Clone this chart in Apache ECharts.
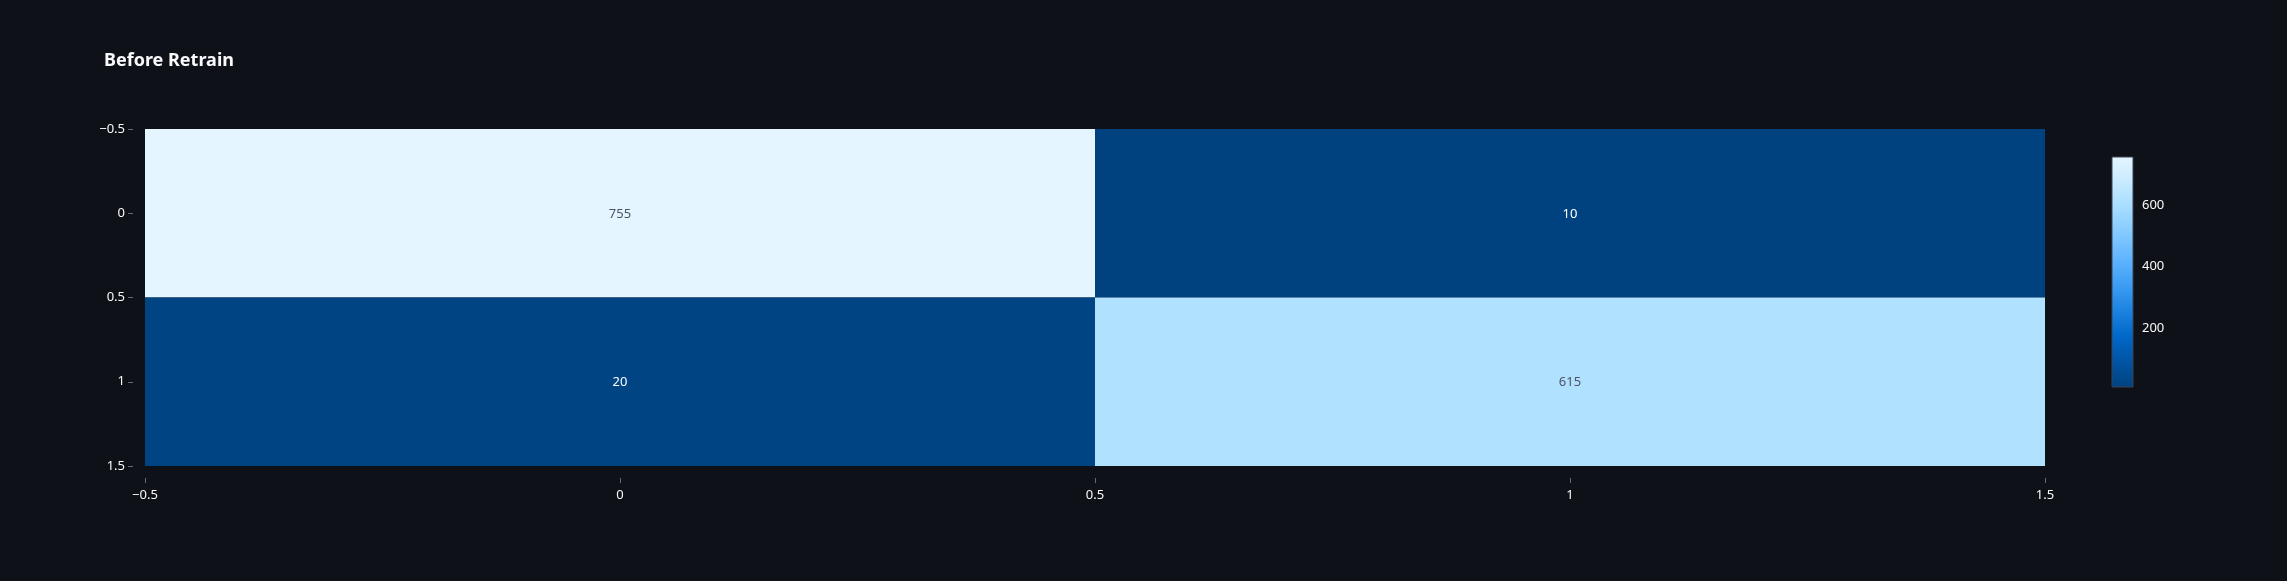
<!DOCTYPE html>
<html>
<head>
<meta charset="utf-8">
<script src="https://cdn.jsdelivr.net/npm/echarts@6/dist/echarts.min.js"></script>
<style>
html,body{margin:0;padding:0;background:#0e1117;}
#chart{width:2287px;height:581px;}
</style>
</head>
<body>
<div id="chart"></div>
<script>
// ---- data ----
const title = 'Before Retrain';
const xCats = [0, 1];
const yCats = [0, 1];
const row0 = [755, 10];   // y = 0
const row1 = [20, 615];   // y = 1
const axisTicks = [-0.5, 0, 0.5, 1, 1.5];
const colorbarTicks = [200, 400, 600];

// ---- styling ----
const palette = ['#004280', '#0054a3', '#0068c9', '#1c83e1', '#3d9df3', '#60b4ff', '#83c9ff', '#a6dcff', '#c7ebff', '#e4f5ff'];
const FONT = '"Noto Sans", "Open Sans", sans-serif';
const TXT = '#fafafa';

const rows = [row0, row1];
const cells = [];
yCats.forEach((y, yi) => xCats.forEach((x, xi) => cells.push([x, y, rows[yi][xi]])));
const allVals = cells.map(c => c[2]);
const vMin = Math.min(...allVals), vMax = Math.max(...allVals);
const vMid = (vMin + vMax) / 2;

const fmt = v => (v < 0 ? '\u2212' + Math.abs(v) : String(v));

const chart = echarts.init(document.getElementById('chart'), null, {renderer: 'canvas'});

const axisCommon = {
  type: 'value',
  min: axisTicks[0],
  max: axisTicks[axisTicks.length - 1],
  interval: 0.5,
  offset: 12,
  axisLine: {show: false, onZero: false},
  axisTick: {show: true, length: 5, lineStyle: {color: '#676c76', width: 1}},
  splitLine: {show: false},
  axisLabel: {color: TXT, fontSize: 13, fontFamily: FONT, formatter: fmt}
};

chart.setOption({
  backgroundColor: '#0e1117',
  animation: false,
  title: {
    text: title, left: 99, top: 47,
    textStyle: {color: TXT, fontSize: 18, fontWeight: 'bold', fontFamily: FONT}
  },
  grid: [
    {left: 145, top: 129, right: 242, bottom: 115},
    {left: 2112, top: 157, width: 21, height: 230}
  ],
  xAxis: [
    Object.assign({}, axisCommon, {gridIndex: 0, position: 'bottom', axisLabel: Object.assign({}, axisCommon.axisLabel, {margin: 11})}),
    {gridIndex: 1, type: 'value', min: 0, max: 1, show: false, axisLine: {onZero: false}}
  ],
  yAxis: [
    Object.assign({}, axisCommon, {gridIndex: 0, inverse: true, position: 'left', axisLabel: Object.assign({}, axisCommon.axisLabel, {margin: 8})}),
    {
      gridIndex: 1, type: 'value', min: vMin, max: vMax, position: 'right',
      axisLine: {show: false, onZero: false}, axisTick: {show: false}, splitLine: {show: false},
      axisLabel: {show: true, customValues: colorbarTicks, color: TXT, fontSize: 13, fontFamily: FONT, margin: 9}
    }
  ],
  visualMap: {
    show: false, type: 'continuous', seriesIndex: 0, dimension: 2,
    min: vMin, max: vMax, inRange: {color: palette}
  },
  series: [
    {
      type: 'custom', xAxisIndex: 0, yAxisIndex: 0, data: cells,
      encode: {x: 0, y: 1},
      renderItem: function (params, api) {
        const x = api.value(0), y = api.value(1), v = api.value(2);
        const p0 = api.coord([x - 0.5, y - 0.5]);
        const p1 = api.coord([x + 0.5, y + 0.5]);
        const rx = Math.min(p0[0], p1[0]), ry = Math.min(p0[1], p1[1]);
        const w = Math.abs(p1[0] - p0[0]), h = Math.abs(p1[1] - p0[1]);
        return {
          type: 'group',
          children: [
            {type: 'rect', shape: {x: rx, y: ry, width: w, height: h}, style: {fill: api.visual('color')}},
            {type: 'text', x: rx + w / 2, y: ry + h / 2 + 1,
             style: {text: String(v), align: 'center', verticalAlign: 'middle',
                     fill: v > vMid ? '#4d5466' : '#ffffff', font: '13px ' + FONT}}
          ]
        };
      }
    },
    {
      type: 'custom', xAxisIndex: 1, yAxisIndex: 1, data: [[0, vMin, vMax]],
      silent: true,
      renderItem: function (params, api) {
        const pTop = api.coord([0, api.value(2)]);
        const pBot = api.coord([1, api.value(1)]);
        const stops = palette.map((c, i) => ({offset: 1 - i / (palette.length - 1), color: c}));
        return {
          type: 'rect',
          shape: {x: pTop[0], y: pTop[1], width: pBot[0] - pTop[0], height: pBot[1] - pTop[1]},
          style: {fill: new echarts.graphic.LinearGradient(0, 0, 0, 1, stops), stroke: '#3a4252', lineWidth: 1}
        };
      }
    }
  ]
});
</script>
</body>
</html>
